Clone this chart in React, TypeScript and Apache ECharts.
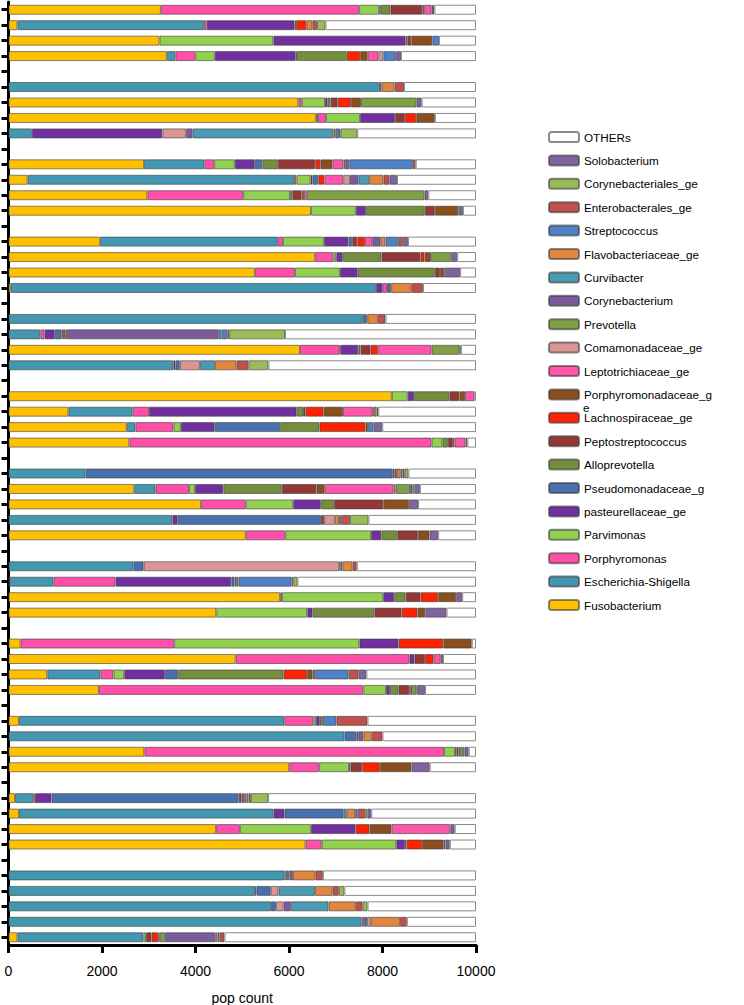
import React, { useEffect, useRef } from "react";
import * as echarts from "echarts";

// Taxa in stacking order (left to right inside each bar)
const TAXA = [
  "Fusobacterium",
  "Escherichia-Shigella",
  "Porphyromonas",
  "Parvimonas",
  "pasteurellaceae_ge",
  "Pseudomonadaceae_g",
  "Alloprevotella",
  "Peptostreptococcus",
  "Lachnospiraceae_ge",
  "Porphyromonadaceae_ge",
  "Leptotrichiaceae_ge",
  "Comamonadaceae_ge",
  "Prevotella",
  "Corynebacterium",
  "Curvibacter",
  "Flavobacteriaceae_ge",
  "Streptococcus",
  "Enterobacterales_ge",
  "Corynebacteriales_ge",
  "Solobacterium",
];
const KEYS = ["Fu", "Es", "Po", "Pa", "Pt", "Ps", "Al", "Pe", "La", "Pd", "Le", "Co", "Pr", "Cb", "Cu", "Fl", "St", "En", "Cl", "So"];
const OTHERS = "OTHERs";
const TOTAL = 10000;
const X_TICKS = [0, 2000, 4000, 6000, 8000, 10000];

type Row = Record<string, number>;

const group01: Row[] = [
  { Fu: 3260, Po: 4240, Pa: 430, Pt: 30, Al: 210, Pe: 680, Pd: 40, Le: 160, St: 30, So: 30 },
  { Fu: 190, Es: 3990, Po: 60, Pt: 1880, Ps: 30, La: 220, Fl: 130, En: 100, Cl: 180 },
  { Fu: 3230, Pa: 2435, Pt: 2830, Al: 35, Pe: 85, Pd: 450, St: 145 },
  { Fu: 3384, Es: 185, Po: 428, Pa: 414, Pt: 1733, Ps: 28, Al: 1063, La: 285, Pd: 164, Le: 227, Co: 107, St: 257, Cl: 21, So: 100 },
];
const group02: Row[] = [
  { Es: 7920, Ps: 60, Fl: 280, En: 200 },
  { Fu: 6200, Po: 72, Pa: 498, Pt: 57, Al: 64, Pe: 150, La: 285, Pd: 214, Pr: 1190, So: 107 },
  { Fu: 6580, Es: 40, Po: 170, Pa: 730, Pt: 750, Pe: 210, La: 240, Pd: 400 },
  { Es: 500, Pt: 2790, Co: 510, Cb: 140, Cu: 3010, Fl: 40, St: 80, En: 30, Cl: 360 },
];
const group03: Row[] = [
  { Fu: 2900, Es: 1290, Po: 210, Pa: 440, Pt: 430, Ps: 160, Al: 330, Pe: 800, La: 110, Pd: 260, Le: 235, Pr: 35, Cb: 90, St: 1360, En: 60 },
  { Fu: 410, Es: 5700, Po: 50, Pa: 300, Pt: 45, Ps: 120, La: 130, Le: 405, Co: 145, Cb: 180, Cu: 230, Fl: 305, En: 130, So: 160 },
  { Fu: 2970, Po: 2050, Pa: 1000, Al: 50, Pe: 200, La: 50, Le: 60, Pr: 2520, So: 80 },
  { Fu: 6470, Pa: 960, Pt: 215, Al: 1260, Pe: 215, Pd: 500, St: 60, So: 40 },
];
const group04: Row[] = [
  { Fu: 1960, Es: 3800, Po: 110, Pa: 880, Pt: 520, Ps: 80, Pe: 110, La: 165, Le: 155, Cb: 180, Fl: 105, St: 270, En: 100, So: 110 },
  { Fu: 6560, Po: 390, Pa: 60, Pt: 140, Al: 830, Pe: 830, La: 90, Pd: 140, Pr: 430, So: 130 },
  { Fu: 5270, Po: 860, Pa: 960, Pt: 380, Al: 1650, Pe: 110, Pd: 90, So: 340 },
  { Fu: 50, Es: 7810, Pt: 145, Le: 90, Pr: 20, Cb: 70, Fl: 430, En: 250 },
];
const group05: Row[] = [
  { Es: 7580, Ps: 70, Cu: 25, Fl: 230, En: 160 },
  { Es: 680, Po: 90, Pt: 220, Ps: 140, Al: 35, La: 50, Pd: 35, Cb: 3250, Cu: 60, St: 120, En: 40, Cl: 1195 },
  { Fu: 6235, Po: 850, Pa: 20, Pt: 375, Al: 50, Pe: 215, La: 155, Le: 1150, Pr: 600, Cb: 25 },
  { Es: 3525, Pt: 50, Ps: 90, Co: 430, Cu: 320, Fl: 465, En: 250, Cl: 430 },
];
const group06: Row[] = [
  { Fu: 8200, Pa: 340, Pt: 135, Al: 755, Pe: 215, Pd: 120, Le: 205 },
  { Fu: 1280, Es: 1375, Po: 350, Pt: 3160, Al: 135, Pe: 55, La: 385, Pd: 415, Le: 635, Cb: 20, Fl: 60, En: 40 },
  { Fu: 2530, Es: 185, Po: 815, Pa: 155, Pt: 725, Ps: 1400, Al: 840, La: 985, Pd: 55, St: 120, So: 185 },
  { Fu: 2585, Po: 6465, Pa: 230, Al: 120, Pe: 105, La: 35, Le: 235, Cb: 40 },
];
const group07: Row[] = [
  { Es: 1650, Ps: 6570, Pe: 40, Cb: 50, Fl: 80, St: 35, En: 50, Cl: 80 },
  { Fu: 2690, Es: 455, Po: 715, Pa: 130, Pt: 605, Al: 1250, Pe: 740, Pd: 180, Le: 1475, Co: 40, Pr: 310, Cb: 55, Cl: 45, So: 110 },
  { Fu: 4120, Po: 955, Pa: 1015, Pt: 590, Al: 285, Pe: 1050, Pd: 555, So: 190 },
  { Es: 3505, Pt: 115, Ps: 3065, Pe: 65, Co: 230, Fl: 90, St: 45, En: 190, Cl: 395 },
  { Fu: 5075, Po: 845, Pa: 1835, Pt: 220, Al: 340, Pe: 440, Pd: 250, So: 185 },
];
const group08: Row[] = [
  { Es: 2670, Ps: 220, Co: 4185, Cb: 30, Cu: 40, Fl: 215, En: 90 },
  { Fu: 30, Es: 935, Po: 1325, Pt: 2475, Ps: 70, Cb: 50, Fl: 35, St: 1135, En: 35, Cl: 90 },
  { Fu: 5810, Po: 40, Pa: 2165, Pt: 235, Al: 245, Pe: 320, La: 375, Pd: 385, So: 130 },
  { Fu: 4445, Pa: 1945, Pt: 115, Al: 1320, Pe: 585, La: 340, Pd: 165, So: 455 },
];
const group09: Row[] = [
  { Fu: 260, Po: 3285, Pa: 3960, Pt: 840, La: 955, Pd: 610 },
  { Fu: 4860, Po: 3715, Pt: 110, Pe: 225, La: 185, Le: 150, So: 50 },
  { Fu: 830, Es: 1135, Po: 280, Pa: 230, Pt: 870, Ps: 285, Al: 2255, La: 500, Pd: 120, Cb: 55, St: 715, En: 215, So: 165 },
  { Fu: 1935, Po: 5655, Pa: 485, Pt: 85, Al: 180, Pe: 230, La: 35, Pd: 30, Pr: 90, Cb: 30, So: 155 },
];
const group10: Row[] = [
  { Fu: 225, Es: 5675, Po: 620, Pa: 55, Pt: 85, Pe: 30, La: 35, St: 290, En: 665 },
  { Es: 7185, Ps: 255, Pe: 40, Cb: 110, Fl: 180, En: 230 },
  { Fu: 2905, Po: 6410, Pa: 235, Al: 30, Pe: 45, La: 30, Pr: 70, Cl: 30, So: 90 },
  { Fu: 6005, Po: 640, Pa: 640, Pt: 30, Pe: 250, La: 380, Pd: 675, So: 390 },
];
const group11: Row[] = [
  { Fu: 140, Es: 390, Po: 35, Pt: 355, Ps: 4004, Pe: 60, La: 30, Pd: 40, Le: 40, Co: 40, En: 50, Cl: 370 },
  { Fu: 225, Es: 5440, Pt: 240, Ps: 1265, Cu: 65, Fl: 180, St: 55, En: 160, Cl: 45, So: 85 },
  { Fu: 4440, Po: 510, Pa: 1520, Pt: 955, La: 300, Pd: 470, Le: 1255, So: 95 },
  { Fu: 6355, Po: 345, Pa: 1595, Pt: 185, Pe: 35, La: 330, Pd: 465, Cb: 35, So: 95 },
];
const group12: Row[] = [
  { Es: 5900, Pa: 30, Ps: 50, Co: 35, Cb: 70, Fl: 480, En: 160 },
  { Es: 5275, Pt: 30, Ps: 305, Co: 165, Cu: 780, Fl: 380, En: 130, Cl: 120 },
  { Es: 5615, Ps: 105, Co: 165, Cb: 155, Cu: 805, Fl: 585, En: 145, Cl: 105 },
  { Es: 7555, Po: 50, Ps: 65, Co: 80, Fl: 625, En: 145 },
  { Fu: 190, Es: 2695, Pa: 55, Pe: 120, La: 145, Pd: 30, Pr: 115, Cb: 1070, Fl: 50, St: 45, En: 105 },
];

const GROUPS = [group01, group02, group03, group04, group05, group06, group07, group08, group09, group10, group11, group12];

const COLORS = [
  "#FFC000", // Fusobacterium
  "#4397B0", // Escherichia-Shigella
  "#FF4FA8", // Porphyromonas
  "#92D050", // Parvimonas
  "#7030A0", // pasteurellaceae_ge
  "#4870AC", // Pseudomonadaceae_g
  "#748F3B", // Alloprevotella
  "#953735", // Peptostreptococcus
  "#FF2200", // Lachnospiraceae_ge
  "#8B4F1F", // Porphyromonadaceae_ge
  "#FF55AA", // Leptotrichiaceae_ge
  "#D99694", // Comamonadaceae_ge
  "#7FA046", // Prevotella
  "#7A5C9C", // Corynebacterium
  "#4A9BB3", // Curvibacter
  "#E0863F", // Flavobacteriaceae_ge
  "#4F81C6", // Streptococcus
  "#C0504D", // Enterobacterales_ge
  "#9BBB59", // Corynebacteriales_ge
  "#8064A2", // Solobacterium
];

const FONT = "Liberation Sans, Arial, Helvetica, sans-serif";

export default function App() {
  const ref = useRef<HTMLDivElement>(null);

  useEffect(() => {
    if (!ref.current) return;
    const chart = echarts.init(ref.current, null, { renderer: "svg" });

    const rows: (Row | null)[] = [];
    GROUPS.forEach((g, gi) => {
      if (gi > 0) rows.push(null);
      g.forEach((r) => rows.push(r));
    });
    const categories = rows.map((_, i) => "r" + (i + 1));
    const sumRow = (r: Row) => KEYS.reduce((s, k) => s + (r[k] || 0), 0);

    const series: any[] = TAXA.map((name, i) => ({
      name,
      type: "bar",
      stack: "total",
      barWidth: 10,
      itemStyle: { color: COLORS[i], borderColor: "rgba(60,60,60,0.6)", borderWidth: 1 },
      emphasis: { disabled: true },
      data: rows.map((r) => (r && r[KEYS[i]] ? r[KEYS[i]] : "-")),
    }));
    series.push({
      name: OTHERS,
      type: "bar",
      stack: "total",
      barWidth: 10,
      itemStyle: { color: "#FFFFFF", borderColor: "#8a8a8a", borderWidth: 1 },
      emphasis: { disabled: true },
      data: rows.map((r) => (r ? TOTAL - sumRow(r) : "-")),
    });

    const legendData = [OTHERS, ...TAXA.slice().reverse()];

    chart.setOption({
      animation: false,
      textStyle: { fontFamily: FONT },
      grid: { left: 8.5, top: 2, width: 467.5, height: 943, containLabel: false, outerBoundsMode: "none" },
      xAxis: {
        type: "value",
        min: 0,
        max: TOTAL,
        interval: 2000,
        name: "pop count",
        nameLocation: "middle",
        nameGap: 46,
        nameTextStyle: { fontSize: 14, color: "#000", fontFamily: FONT },
        axisLine: { show: true, lineStyle: { color: "#000", width: 3 } },
        axisTick: { show: true, length: 8, lineStyle: { color: "#000", width: 3 } },
        axisLabel: {
          fontSize: 14,
          color: "#000",
          margin: 19,
          fontFamily: FONT,
          formatter: (v: number) => (X_TICKS.includes(v) ? String(v) : ""),
        },
        splitLine: { show: false },
      },
      yAxis: {
        type: "category",
        inverse: true,
        data: categories,
        axisLine: { show: true, lineStyle: { color: "#000", width: 3 } },
        axisTick: { show: true, alignWithLabel: true, interval: 0, length: 7, lineStyle: { color: "#000", width: 3 } },
        axisLabel: { show: false },
        splitLine: { show: false },
      },
      legend: {
        orient: "vertical",
        left: 548,
        top: 130,
        padding: 0,
        itemWidth: 30,
        itemHeight: 10,
        itemGap: 9.4,
        selectedMode: false,
        data: legendData,
        textStyle: { fontSize: 11.7, lineHeight: 14, color: "#000", fontFamily: FONT },
        formatter: (name: string) => (name === "Porphyromonadaceae_ge" ? "Porphyromonadaceae_g" : name),
      },
      graphic: [
        {
          type: "text",
          left: 583,
          top: 401,
          silent: true,
          style: { text: "e", fontSize: 11.7, fontFamily: FONT, fill: "#000" },
        },
      ],
      series,
    });

    return () => chart.dispose();
  }, []);

  return <div ref={ref} style={{ position: "absolute", left: 0, top: 0, width: 744, height: 1005 }} />;
}
